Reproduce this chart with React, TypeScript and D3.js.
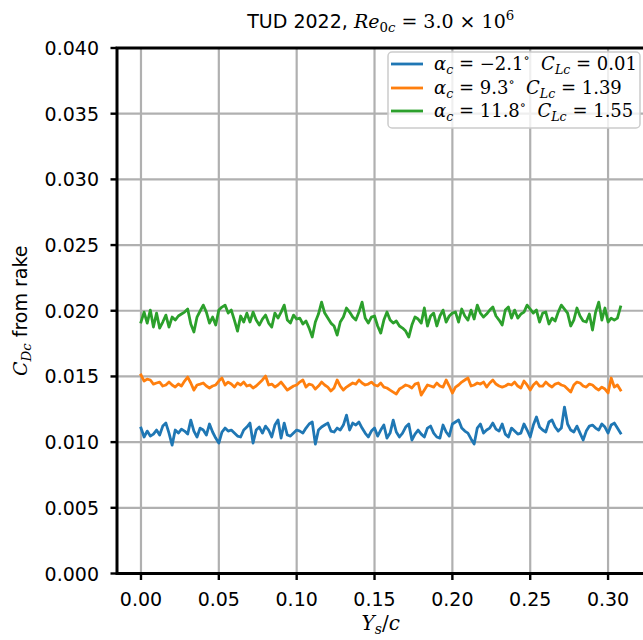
import React from "react";
import * as d3 from "d3";

// Spanwise rake probe spacing (Y_s/c) — probes are evenly spaced from 0 to 0.308
const ysStep = 0.002;

// C_Dc values, in units of 1e-3
const blueCd = [
  11.07, 10.39, 10.84, 10.46, 10.61, 10.92, 10.54, 11.22, 11.45, 10.69,
  9.77, 10.92, 10.69, 10.99, 10.84, 10.61, 11.68, 10.84, 10.39, 11.07,
  10.92, 10.54, 11.38, 10.77, 10.31, 9.93, 10.77, 11.07, 10.84, 10.92,
  10.69, 10.46, 10.39, 10.92, 11.15, 11.45, 9.93, 10.92, 11.15, 10.69,
  11.22, 10.92, 10.39, 11.30, 11.68, 10.31, 11.45, 10.54, 10.46, 10.69,
  10.92, 10.84, 10.69, 11.07, 11.38, 11.53, 9.85, 10.92, 11.15, 11.30,
  11.45, 10.84, 10.77, 11.07, 10.92, 11.30, 12.06, 10.92, 11.45, 11.30,
  11.53, 11.07, 10.69, 10.39, 10.84, 11.07, 10.46, 10.92, 11.30, 10.31,
  10.69, 11.68, 10.77, 10.39, 10.69, 11.15, 11.38, 10.16, 10.61, 10.92,
  10.61, 10.39, 11.07, 11.22, 10.69, 10.39, 10.31, 11.30, 10.77, 10.46,
  11.38, 11.53, 11.68, 11.07, 10.84, 10.69, 10.24, 9.85, 11.07, 11.38,
  10.69, 10.92, 11.07, 11.45, 10.99, 10.84, 11.38, 10.61, 10.39, 11.07,
  10.84, 10.61, 10.69, 11.38, 10.92, 10.39, 11.30, 11.91, 11.15, 10.92,
  10.77, 11.53, 11.68, 11.15, 10.84, 11.07, 12.67, 11.38, 10.92, 10.77,
  11.22, 10.69, 10.16, 10.84, 11.22, 11.30, 11.07, 10.92, 11.38, 11.15,
  10.69, 11.30, 11.45, 11.07, 10.69,
];

const orangeCd = [
  15.11, 14.65, 14.80, 14.73, 14.42, 14.50, 14.57, 14.27, 14.35, 14.57,
  14.35, 14.19, 14.42, 14.27, 14.65, 14.95, 14.50, 13.96, 14.35, 14.42,
  14.50, 14.27, 14.12, 14.27, 14.35, 14.65, 14.88, 14.35, 14.57, 14.42,
  14.19, 14.50, 14.35, 14.57, 14.27, 14.35, 14.12, 14.27, 14.50, 14.73,
  15.03, 14.35, 14.42, 14.19, 14.35, 14.57, 14.27, 13.96, 14.12, 14.27,
  14.35, 14.57, 14.73, 14.19, 14.42, 14.35, 14.04, 14.27, 14.57, 14.35,
  14.19, 13.89, 14.12, 14.73, 14.27, 13.96, 14.19, 14.35, 14.50, 14.42,
  14.73, 14.50, 14.35, 14.42, 14.57, 14.35, 14.27, 14.50, 14.19, 14.12,
  13.96, 13.81, 13.66, 14.04, 14.19, 14.35, 14.27, 14.12, 14.42, 14.50,
  13.58, 13.96, 14.35, 14.27, 14.19, 14.50, 14.27, 14.19, 14.73, 14.27,
  13.74, 14.19, 14.35, 14.57, 14.73, 14.88, 14.27, 14.35, 14.50, 14.42,
  14.57, 14.19, 14.50, 14.73, 14.42, 14.27, 14.19, 14.27, 14.42, 14.35,
  14.57, 14.27, 14.12, 14.65, 14.35, 13.96, 14.35, 14.57, 14.27, 14.27,
  14.57, 14.35, 14.19, 14.42, 14.50, 14.35, 14.27, 14.04, 13.81, 14.35,
  14.57, 14.50, 14.27, 14.19, 14.42, 14.35, 14.12, 13.96, 14.19, 14.04,
  13.74, 14.88, 14.19, 14.35, 13.96,
];

const greenCd = [
  19.14, 19.90, 19.06, 20.05, 18.76, 19.82, 18.68, 19.14, 19.67, 18.76,
  19.52, 19.29, 19.60, 19.75, 19.90, 20.13, 18.99, 18.38, 19.52, 19.98,
  20.43, 19.90, 19.06, 19.52, 18.91, 20.05, 20.28, 20.43, 19.82, 20.05,
  19.29, 18.45, 19.60, 19.14, 19.82, 19.14, 19.90, 19.29, 18.91, 19.37,
  19.67, 19.06, 18.76, 19.82, 19.44, 19.90, 20.43, 19.29, 19.06, 19.67,
  19.37, 19.44, 18.99, 19.22, 18.68, 18.00, 19.14, 19.75, 20.66, 19.82,
  19.44, 19.06, 18.84, 18.15, 19.14, 19.52, 20.21, 19.90, 19.52, 19.29,
  19.90, 20.66, 19.44, 19.06, 19.52, 19.60, 18.84, 18.30, 19.29, 19.90,
  19.29, 19.06, 19.22, 18.84, 18.68, 18.45, 18.00, 18.91, 19.52, 19.37,
  19.06, 20.21, 18.84, 19.60, 19.82, 18.84, 19.60, 20.05, 19.14, 19.60,
  19.82, 19.90, 19.14, 20.13, 19.60, 19.29, 20.05, 19.37, 20.43, 19.82,
  19.52, 19.75, 20.05, 20.28, 19.60, 19.29, 18.91, 20.05, 20.28, 19.44,
  20.05, 19.44, 19.75, 19.90, 20.43, 20.13, 19.82, 20.05, 19.14, 19.82,
  19.90, 18.99, 19.44, 19.22, 19.90, 20.43, 20.13, 19.82, 18.84, 19.29,
  20.21, 19.60, 19.22, 19.14, 19.75, 18.53, 19.90, 20.66, 19.29, 20.21,
  19.14, 19.44, 19.29, 19.44, 20.28,
];

const cdUnit = 1e-3;

const xTicks = [0, 0.05, 0.1, 0.15, 0.2, 0.25, 0.3];
const xTickLabels = ["0.00", "0.05", "0.10", "0.15", "0.20", "0.25", "0.30"];
const yTicks = [0, 0.005, 0.01, 0.015, 0.02, 0.025, 0.03, 0.035, 0.04];
const yTickLabels = ["0.000", "0.005", "0.010", "0.015", "0.020", "0.025", "0.030", "0.035", "0.040"];

const seriesColors = ["#1f77b4", "#ff7f0e", "#2ca02c"];
const seriesAlpha = ["\u22122.1", "9.3", "11.8"];
const seriesCl = ["0.01", "1.39", "1.55"];
const seriesData = [blueCd, orangeCd, greenCd];

const W = 643;
const H = 640;
const LEFT = 117;
const RIGHT = 644.5;
const TOP = 48;
const BOTTOM = 573.5;

const SANS = "'DejaVu Sans', sans-serif";
const SERIF = "'DejaVu Serif', serif";

type Seg = { t: string; it?: boolean; sub?: boolean; sup?: boolean; sans?: boolean };

function renderSegs(segs: Seg[], fs: number) {
  let cur = 0;
  return segs.map((s, i) => {
    const target = s.sub ? 0.22 * fs : s.sup ? -0.42 * fs : 0;
    const dy = target - cur;
    cur = target;
    return (
      <tspan
        key={i}
        dy={dy !== 0 ? dy : undefined}
        fontSize={s.sub || s.sup ? fs * 0.7 : fs}
        fontStyle={s.it ? "italic" : "normal"}
        fontFamily={s.sans ? SANS : SERIF}
      >
        {s.t}
      </tspan>
    );
  });
}

export default function App() {
  const x = d3.scaleLinear().domain([-0.0154, 0.3234]).range([LEFT, RIGHT]);
  const y = d3.scaleLinear().domain([0, 0.04]).range([BOTTOM, TOP]);

  const line = d3
    .line<number>()
    .x((_, i) => x(i * ysStep))
    .y((v) => y(v * cdUnit));

  const tickFs = 19;
  const titleSegs: Seg[] = [
    { t: "TUD 2022, ", sans: true },
    { t: "Re", it: true },
    { t: "0", sub: true },
    { t: "c", sub: true, it: true },
    { t: " = 3.0 \u00d7 10" },
    { t: "6", sup: true },
  ];
  const ylabSegs: Seg[] = [
    { t: "C", it: true },
    { t: "Dc", it: true, sub: true },
    { t: " from rake", sans: true },
  ];
  const xlabSegs: Seg[] = [
    { t: "Y", it: true },
    { t: "s", it: true, sub: true },
    { t: "/" },
    { t: "c", it: true },
  ];

  const legX = 388;
  const legY = 52;
  const legW = 252;
  const legH = 76;
  const rowY = [64, 88, 111];
  const legFs = 18;

  return (
    <svg
      width={W}
      height={H}
      viewBox={`0 0 ${W} ${H}`}
      style={{ position: "absolute", left: 0, top: 0, background: "#fff" }}
    >
      <defs>
        <clipPath id="plotclip">
          <rect x={LEFT} y={TOP} width={RIGHT - LEFT} height={BOTTOM - TOP} />
        </clipPath>
      </defs>
      <rect x={0} y={0} width={W} height={H} fill="#fff" />

      {/* grid */}
      <g stroke="#b0b0b0" strokeWidth={2.2}>
        {xTicks.map((t) => (
          <line key={"gx" + t} x1={x(t)} x2={x(t)} y1={TOP} y2={BOTTOM} />
        ))}
        {yTicks.map((t) => (
          <line key={"gy" + t} x1={LEFT} x2={RIGHT} y1={y(t)} y2={y(t)} />
        ))}
      </g>

      {/* series */}
      <g clipPath="url(#plotclip)" fill="none" strokeWidth={2.8} strokeLinejoin="round" strokeLinecap="square">
        {seriesData.map((d, k) => (
          <path key={k} d={line(d) || ""} stroke={seriesColors[k]} />
        ))}
      </g>

      {/* spines */}
      <rect x={LEFT} y={TOP} width={RIGHT - LEFT} height={BOTTOM - TOP} fill="none" stroke="#000" strokeWidth={3} />

      {/* ticks */}
      <g stroke="#000" strokeWidth={2.4}>
        {xTicks.map((t) => (
          <line key={"tx" + t} x1={x(t)} x2={x(t)} y1={BOTTOM} y2={BOTTOM + 6.5} />
        ))}
        {yTicks.map((t) => (
          <line key={"ty" + t} x1={LEFT - 6.5} x2={LEFT} y1={y(t)} y2={y(t)} />
        ))}
      </g>

      {/* tick labels */}
      <g fontFamily={SANS} fontSize={tickFs} fill="#000">
        {xTicks.map((t, i) => (
          <text key={"lx" + t} x={x(t)} y={606} textAnchor="middle">
            {xTickLabels[i]}
          </text>
        ))}
        {yTicks.map((t, i) => (
          <text key={"ly" + t} x={99} y={y(t) + 7} textAnchor="end">
            {yTickLabels[i]}
          </text>
        ))}
      </g>

      {/* title */}
      <text x={(LEFT + RIGHT) / 2} y={28} textAnchor="middle" style={{ whiteSpace: "pre" }}>
        {renderSegs(titleSegs, 19)}
      </text>

      {/* x label */}
      <text x={(LEFT + RIGHT) / 2} y={630} textAnchor="middle" style={{ whiteSpace: "pre" }}>
        {renderSegs(xlabSegs, 20)}
      </text>

      {/* y label */}
      <text
        transform={`translate(27, ${(TOP + BOTTOM) / 2}) rotate(-90)`}
        textAnchor="middle"
        style={{ whiteSpace: "pre" }}
      >
        {renderSegs(ylabSegs, 19)}
      </text>

      {/* legend */}
      <g>
        <rect
          x={legX}
          y={legY}
          width={legW}
          height={legH}
          rx={4}
          fill="#fff"
          fillOpacity={0.8}
          stroke="#cccccc"
          strokeWidth={1.5}
        />
        {seriesColors.map((c, k) => {
          const segs: Seg[] = [
            { t: "\u03b1", it: true },
            { t: "c", it: true, sub: true },
            { t: " = " + seriesAlpha[k] },
            { t: "\u2218", sup: true },
            { t: "  " },
            { t: "C", it: true },
            { t: "Lc", it: true, sub: true },
            { t: " = " + seriesCl[k] },
          ];
          return (
            <g key={k}>
              <line x1={391} x2={423} y1={rowY[k]} y2={rowY[k]} stroke={c} strokeWidth={2.8} />
              <text x={434} y={rowY[k] + 6} style={{ whiteSpace: "pre" }}>
                {renderSegs(segs, legFs)}
              </text>
            </g>
          );
        })}
      </g>
    </svg>
  );
}
